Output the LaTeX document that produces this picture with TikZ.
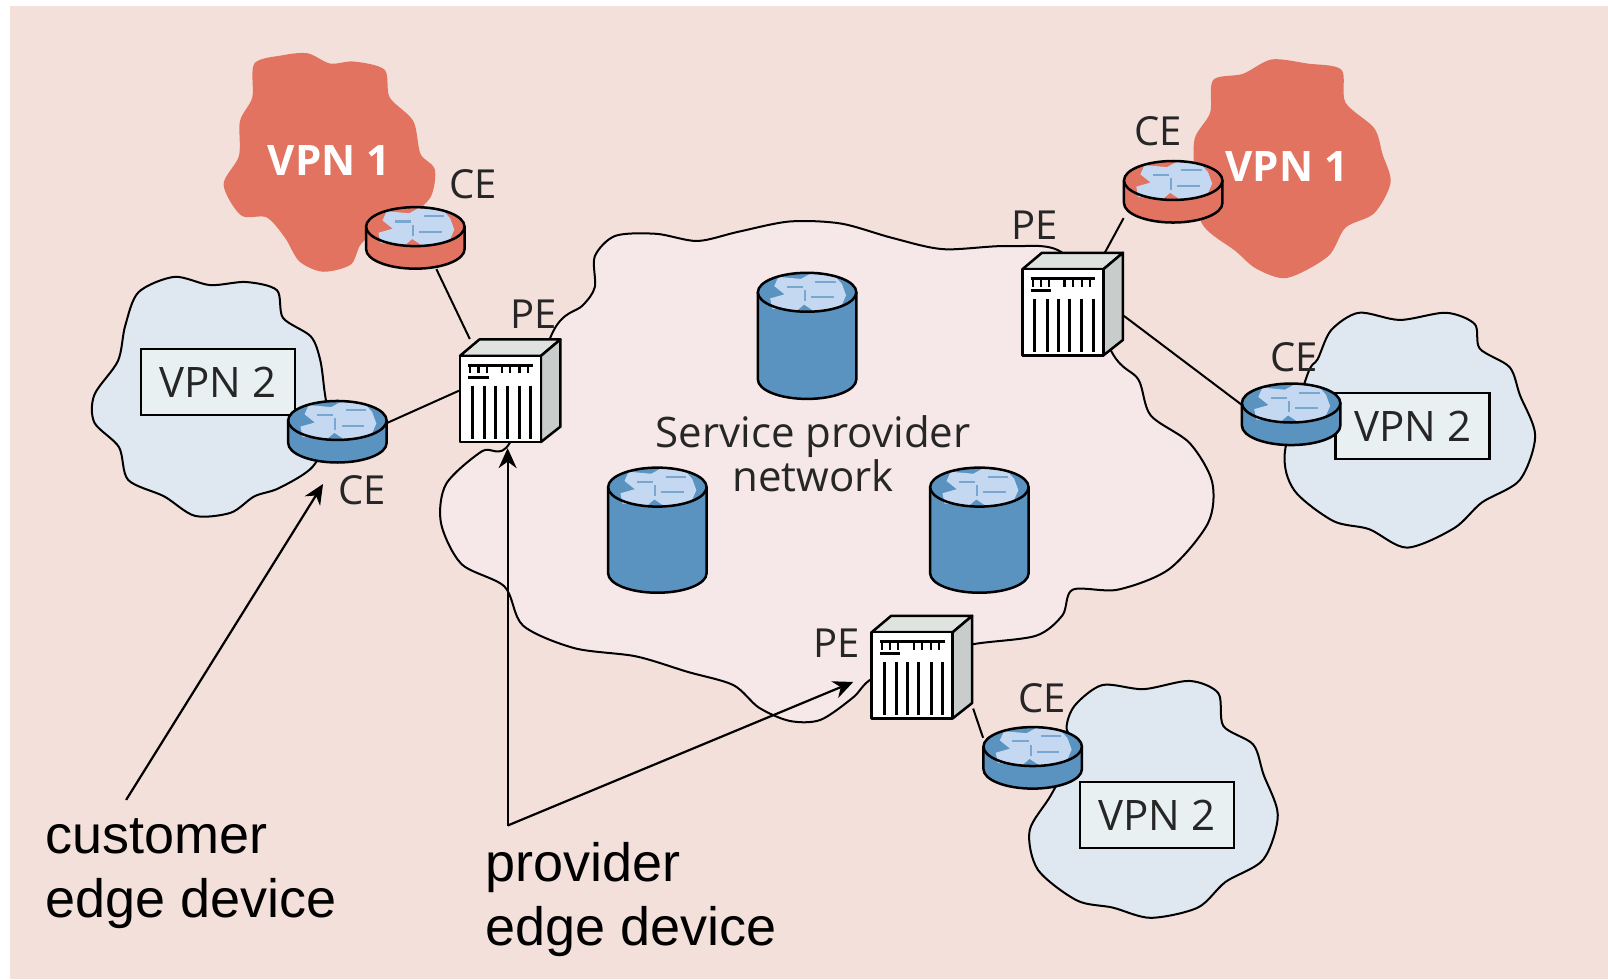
\documentclass[tikz,border=0pt]{standalone}
\usepackage{fontspec}
\setmainfont{Liberation Sans}
\newfontfamily\devfont{Open Sans}
\usetikzlibrary{arrows.meta}
\definecolor{pagepink}{HTML}{F3E0DB}
\definecolor{corepink}{HTML}{F6E8E9}
\definecolor{vpnred}{HTML}{E27360}
\definecolor{vpnblue}{HTML}{DFE7F0}
\definecolor{boxblue}{HTML}{E8F0F1}
\definecolor{drumblue}{HTML}{5A92C0}
\definecolor{blotblue}{HTML}{C5D8F1}
\definecolor{pesideg}{HTML}{C8CDCB}
\definecolor{petopg}{HTML}{DFE3E0}
\tikzset{
  cloudline/.style={draw=black,line width=1pt,line join=round},
  devline/.style={draw=black,line width=1.25pt,line join=round},
  linkline/.style={draw=black,line width=1pt},
  pointer/.style={draw=black,line width=1.1pt,-{Stealth[length=10pt,width=9pt]}},
  devbox/.style={minimum width=50.8pt,minimum height=51.3pt,inner sep=0pt},
  ceshape/.style={minimum width=49.2pt,minimum height=30.8pt,inner sep=0pt},
  devlabel/.style={font=\devfont\fontsize{20}{22}\selectfont,text=black!85,inner sep=0pt},
  corelabel/.style={font=\devfont\fontsize{21}{22}\selectfont,text=black!85,inner sep=0pt,align=center},
  vpnwhite/.style={font=\devfont\bfseries\fontsize{21}{22}\selectfont,text=white,inner sep=0pt},
  vpnbox/.style={draw=black,line width=1.2pt,fill=boxblue,minimum width=77pt,minimum height=33pt,
    inner sep=0pt,font=\devfont\fontsize{21}{23}\selectfont,text=black!85},
  sidelabel/.style={font=\fontsize{27}{31.8}\selectfont,align=left,anchor=north west,inner sep=0pt},
  pics/drum/.style 2 args={code={
    % body, then top face with its blot
    \path [devline,fill=#1] (-48,0) -- (-48,#2) arc [start angle=180,end angle=0,x radius=48,y radius=19]
      -- (48,0) -- cycle;
    \path [fill=#1] (0,0) ellipse [x radius=48,y radius=19];
    \fill [blotblue] (-28,-15) -- (-6,-13) -- (3,-18) -- (27,-16) -- (34,-8) -- (38,3) -- (34,12) -- (25,17)
      -- (6,18) -- (-3,12) -- (-10,18) -- (-34,16) -- (-36,6) -- (-22,2) -- (-32,-6) -- cycle;
    \fill [drumblue!70!blotblue] (-20,-6) rectangle (-4,-4);
    \fill [drumblue!70!blotblue] (8,-11) rectangle (28,-9);
    \fill [drumblue!70!blotblue] (4,4) rectangle (26,6);
    \fill [drumblue!70!blotblue] (-3,-2) rectangle (-1,9);
    \draw [devline] (0,0) ellipse [x radius=48,y radius=19];
  }},
  pics/router/.style={code={\pic at (0,-11) {drum={#1}{22}};}},
  pics/pebox/.style={code={
    \draw [devline,fill=petopg] (-49,-34) -- (-30,-50) -- (49,-50) -- (30,-34) -- cycle;
    \draw [devline,fill=pesideg] (30,-34) -- (49,-50) -- (49,35) -- (30,50) -- cycle;
    \draw [devline,fill=white] (-49,-34) rectangle (30,50);
    % top bar with its ticks, then the slots
    \draw [line width=1.5pt] (-41,-25) -- (22,-25);
    \foreach \t in {-39,-31,-23,-8,0,9,17}
      \draw [line width=1.1pt] (\t,-25) -- (\t,-17);
    \draw [line width=1.4pt] (-41,-13) -- (-21,-13);
    \foreach \t in {-37,-25,-14,-3,9,20}
      \draw [line width=1.5pt] (\t,-5) -- (\t,47);
  }}
}
\begin{document}
\begin{tikzpicture}[x=0.5127pt,y=-0.5127pt]

  % white margin and pink page
  \useasboundingbox (0,0) rectangle (1568,955);
  \fill [pagepink] (10,6) rectangle (1568,955);

  % solid red sites
  \fill [vpnred] plot [smooth cycle,tension=0.5] coordinates {(248,62) (275,54) (300,52) (322,62) (345,60) (375,68)
    (380,95) (403,118) (410,150) (424,165) (420,192) (398,212) (372,222) (352,238) (342,258) (315,265) (292,255)
    (278,232) (260,212) (235,210) (218,180) (233,152) (234,118) (246,95)};
  \fill [vpnred] plot [smooth cycle,tension=0.5] coordinates {(1183,78) (1212,72) (1240,58) (1275,62) (1308,68)
    (1312,100) (1340,125) (1348,150) (1356,178) (1340,208) (1312,222) (1295,250) (1255,271) (1225,262) (1205,245)
    (1172,218) (1165,170) (1165,135) (1180,110)};

  % blue sites
  \path [cloudline,fill=vpnblue] plot [smooth cycle,tension=0.5] coordinates {(135,285) (170,270) (205,278) (240,275)
    (270,283) (276,310) (303,328) (312,350) (316,378) (320,420) (305,455) (272,476) (248,484) (225,500) (190,503)
    (160,484) (125,468) (116,436) (92,412) (92,385) (115,352) (122,318)};
  \path [cloudline,fill=vpnblue] plot [smooth cycle,tension=0.5] coordinates {(1298,322) (1325,305) (1365,312) (1410,305)
    (1438,316) (1443,340) (1472,358) (1482,385) (1497,425) (1482,468) (1445,490) (1418,515) (1372,534) (1335,516)
    (1300,508) (1262,478) (1253,440) (1275,365) (1285,350)};
  \path [cloudline,fill=vpnblue] plot [smooth cycle,tension=0.5] coordinates {(1048,688) (1075,668) (1115,672) (1160,664)
    (1188,676) (1193,708) (1222,726) (1232,755) (1246,795) (1232,838) (1195,860) (1168,885) (1122,895) (1085,885)
    (1050,878) (1012,848) (1004,810) (1025,775) (1048,730) (1040,710)};

  % service provider cloud
  \path [cloudline,fill=corepink] plot [smooth cycle,tension=0.5] coordinates {(540,322) (568,298) (580,280) (580,250)
    (600,230) (640,228) (680,235) (720,226) (770,216) (820,218) (870,232) (920,243) (985,240) (1040,250)
    (1085,345) (1110,370) (1122,405) (1160,432) (1182,470) (1178,510) (1140,555) (1090,575) (1046,575) (1036,600)
    (1010,620) (950,628) (900,640) (850,662) (832,680) (800,702) (770,703) (740,690) (715,668) (670,655) (620,640)
    (560,632) (510,610) (492,572) (450,550) (430,510) (435,472) (470,440) (497,432)};

  % invisible places of the edge devices
  \node (peA) [devbox] at (497.5,381) {};
  \node (peB) [devbox] at (1046,296.5) {};
  \node (peC) [devbox] at (899,650.5) {};
  \node (ceRedA) [ceshape] at (405,232) {};
  \node (ceBlueA) [ceshape] at (329,421) {};
  \node (ceRedB) [ceshape] at (1144,187) {};
  \node (ceBlueB) [ceshape] at (1259,404) {};
  \node (ceBlueC) [ceshape] at (1007,739) {};

  % links
  \draw [linkline] (ceRedA.-56) -- (peA.128);
  \draw [linkline] (ceBlueA.10) -- (peA.west);
  \draw [linkline] (ceRedB.208) -- (peB.58);
  \draw [linkline] (peB.-13) -- (ceBlueB.169);
  \draw [linkline] (peC.-39) -- (ceBlueC.158);

  % boxes on the blue sites
  \node (vpnA) [vpnbox] at (212.5,372.5) {VPN 2};
  \node (vpnB) [vpnbox] at (1377.5,415.5) {VPN 2};
  \node (vpnC) [vpnbox] at (1128,795) {VPN 2};

  % routers and core drums
  \foreach \n/\c in {ceRedA/vpnred,ceRedB/vpnred,ceBlueA/drumblue,ceBlueB/drumblue,ceBlueC/drumblue}
    \pic at (\n) {router=\c};
  \pic at (787,285) {drum={drumblue}{85}};
  \pic at (641,475) {drum={drumblue}{84}};
  \pic at (955,475) {drum={drumblue}{84}};
  \foreach \n in {peA,peB,peC}
    \pic at (\n) {pebox};

  % labels
  \node (redA) [vpnwhite] at (321,157) {VPN 1};
  \node (redB) [vpnwhite] at (1255,162) {VPN 1};
  \node (lblCeA) [devlabel] at (461,180) {CE};
  \node (lblCeB) [devlabel] at (353,478) {CE};
  \node (lblCeC) [devlabel] at (1129,128) {CE};
  \node (lblCeD) [devlabel] at (1262,348) {CE};
  \node (lblCeE) [devlabel] at (1016,681) {CE};
  \node (lblPeA) [devlabel] at (520,306) {PE};
  \node (lblPeB) [devlabel] at (1009,220) {PE};
  \node (lblPeC) [devlabel] at (816,627) {PE};
  \node (core) [corelabel] at (793,442) {Service provider\\network};
  \node (custText) [sidelabel] at (44,798) {customer\\edge device};
  \node (provText) [sidelabel] at (473,821) {provider\\edge device};

  % pointers
  \coordinate (custTail) at (123,780);
  \coordinate (custHead) at (315,472);
  \coordinate (provJoint) at (495,805);
  \coordinate (provHeadA) at (495,437);
  \coordinate (provHeadB) at (832,665);
  \draw [pointer] (custTail) -- (custHead);
  \draw [pointer] (provJoint) -- (provHeadA);
  \draw [pointer] (provJoint) -- (provHeadB);

\end{tikzpicture}
\end{document}
